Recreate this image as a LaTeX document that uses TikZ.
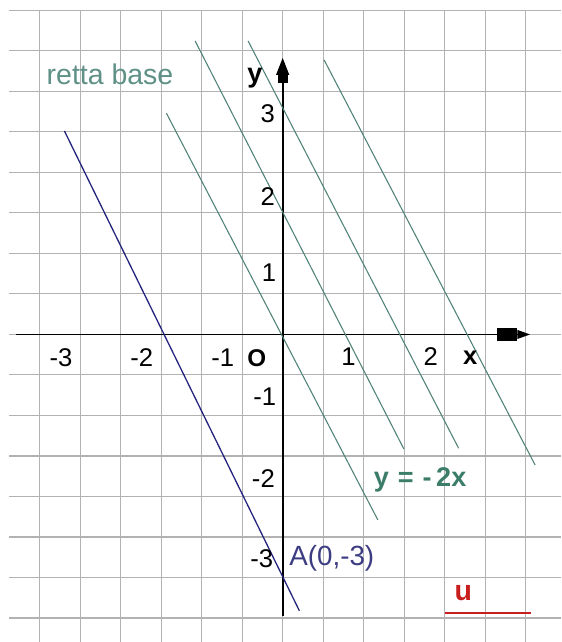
\documentclass[tikz,border=0pt]{standalone}
\usepackage{fontspec}
\setmainfont{Liberation Sans}
\usetikzlibrary{arrows.meta}
\definecolor{verdeR}{RGB}{80,130,120}
\definecolor{verdeT}{RGB}{95,145,135}
\definecolor{verdeEq}{RGB}{60,125,105}
\definecolor{bluR}{RGB}{35,35,125}
\definecolor{bluT}{RGB}{60,60,130}
\definecolor{rossoU}{RGB}{200,30,30}
\begin{document}
\begin{tikzpicture}[x=2cm, y=2cm,
    griglia/.style={draw=gray!60, line width=0.75pt},
    asse/.style={line width=1.3pt},
    retta/.style={draw=verdeR, line width=0.75pt},
    etic/.style={inner sep=0pt, font=\fontsize{18}{20}\selectfont}]
% Sfondo e griglia
\useasboundingbox[fill=white] (-3.489,-3.796) rectangle (3.437,4.128);
\foreach \x in {-3,-2.5,...,3} \draw[griglia] (\x,4) -- (\x,-3.796);
\foreach \y in {4,3.5,...,-3.5} \draw[griglia] (-3.378,\y) -- (3.437,\y);
% Assi
\draw[asse, -{Rectangle[length=14pt,width=8.5pt] Triangle[length=9pt,width=6pt]}] (-3.29,0) -- (3.055,0);
\draw[asse, -{Rectangle[length=6pt,width=7pt] Triangle[length=12pt,width=9pt]}] (0,-3.48) -- (0,3.414);
% Rette parallele
\draw[retta] (-1.435,2.731) -- (1.175,-2.29);
\draw[retta] (-1.081,3.623) -- (1.496,-1.414);
\draw[retta] (-0.427,3.623) -- (2.172,-1.405);
\draw[retta] (0.511,3.389) -- (3.116,-1.611);
% Retta per A
\draw[bluR, line width=0.9pt] (-2.694,2.512) -- (0.206,-3.41);
% Etichette assi
\node[etic] (xm3) at (-2.736,-0.29) {-3};
\node[etic] (xm2) at (-1.74,-0.29) {-2};
\node[etic] (xm1) at (-0.74,-0.29) {-1};
\node[etic, font=\fontsize{17}{20}\selectfont\bfseries] (orig) at (-0.32,-0.29) {O};
\node[etic] (x1) at (0.811,-0.27) {1};
\node[etic] (x2) at (1.828,-0.27) {2};
\node[etic, font=\fontsize{18}{20}\selectfont\bfseries] (xlab) at (2.314,-0.29) {x};
\node[etic, font=\fontsize{19}{20}\selectfont\bfseries] (ylab) at (-0.344,3.163) {y};
\node[etic] (y3) at (-0.185,2.731) {3};
\node[etic] (y2) at (-0.185,1.701) {2};
\node[etic] (y1) at (-0.168,0.759) {1};
\node[etic] (ym1) at (-0.22,-0.768) {-1};
\node[etic] (ym2) at (-0.238,-1.784) {-2};
\node[etic] (ym3) at (-0.258,-2.763) {-3};
% Testi
\node[etic, text=verdeT, font=\fontsize{20}{22}\selectfont] (base) at (-2.131,3.216) {retta base};
\node[etic, text=verdeEq, font=\fontsize{19}{22}\selectfont\bfseries] (eq) at (1.696,-1.796) {y\,\,=\,\,-\,2x};
\node[etic, text=bluT, font=\fontsize{19.5}{22}\selectfont] (puntoA) at (0.606,-2.763) {A(0,-3)};
% Segmento unitario
\node[etic, text=rossoU, font=\fontsize{20}{22}\selectfont\bfseries] (u) at (2.231,-3.195) {u};
\draw[rossoU, line width=0.9pt] (2.005,-3.438) -- (3.067,-3.438);
\end{tikzpicture}
\end{document}
